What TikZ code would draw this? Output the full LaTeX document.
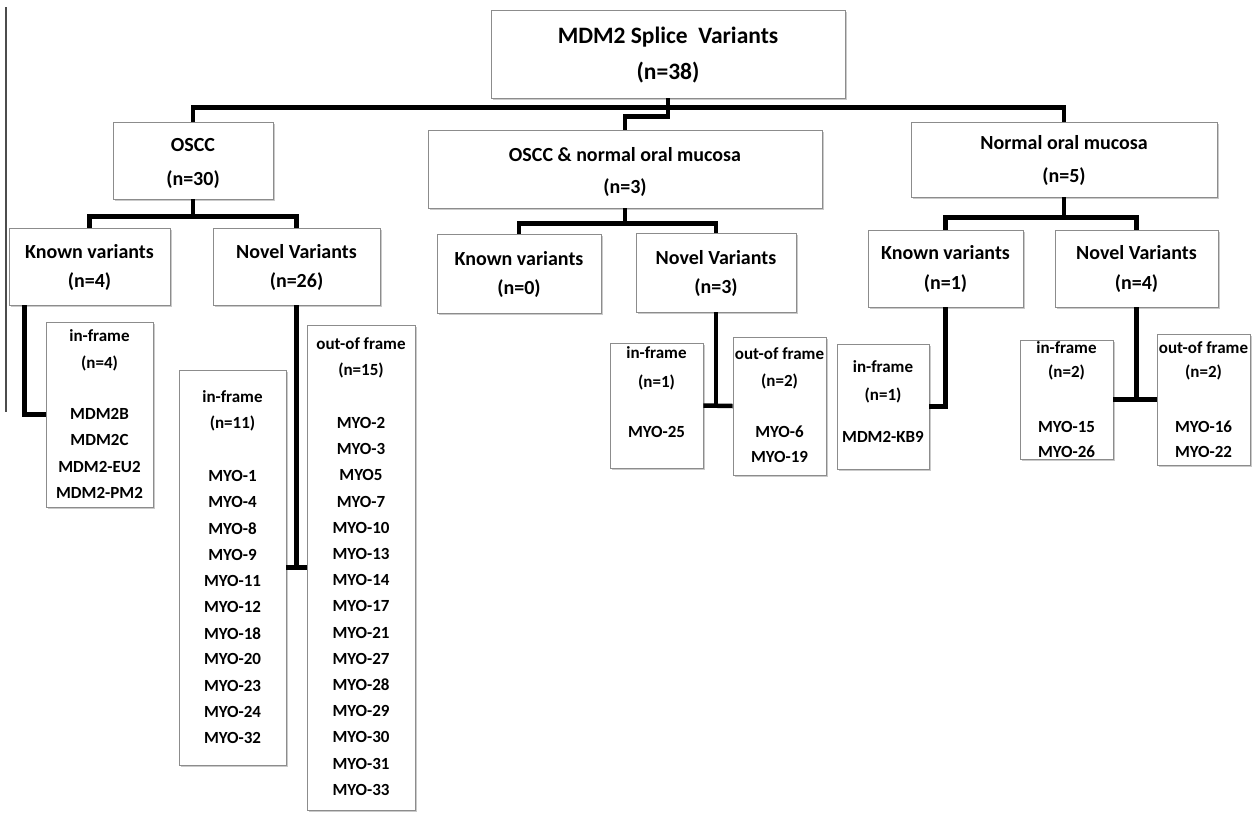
\documentclass[tikz,border=0pt]{standalone}
\usepackage{fontspec}
\setmainfont{Carlito}
\usetikzlibrary{shadows}
\tikzset{
  box/.style={draw=black!45, line width=0.9pt, fill=white, inner sep=0pt,
    drop shadow={shadow xshift=2pt, shadow yshift=-2pt, opacity=0.35, fill=black!60}},
  conn/.style={line width=4.5pt, black, line join=miter},
  big/.style={inner sep=0pt, font=\bfseries\fontsize{23.5}{26}\selectfont},
  mid/.style={inner sep=0pt, font=\bfseries\fontsize{20}{22}\selectfont},
  sml/.style={inner sep=0pt, font=\bfseries\fontsize{17}{19}\selectfont},
}
\newcommand{\mkbox}[5]{% name, x1, y1, x2, y2
  \node[box, minimum width={(#4-#2)*1pt}, minimum height={(#5-#3)*1pt}] (#1) at ({(#2+#4)/2},{(#3+#5)/2}) {};}
\begin{document}
\begin{tikzpicture}[x=1pt, y=-1pt]
\useasboundingbox (0,0) rectangle (1253,812);
% thin margin line
\coordinate (edgeTop) at (6,7);
\coordinate (edgeBot) at (6,412);
\draw[line width=1.3pt, black!70] (edgeTop) -- (edgeBot);

% boxes
\mkbox{root}{491}{10}{845}{98}
\mkbox{oscc}{113}{122}{273}{199}
\mkbox{both}{428}{130}{822}{208}
\mkbox{nom}{911}{122}{1217}{197}
\mkbox{kvA}{9}{228}{170}{305}
\mkbox{nvA}{213}{228}{380}{305}
\mkbox{kvB}{437}{234}{601}{313}
\mkbox{nvB}{636}{233}{796}{312}
\mkbox{kvC}{868}{230}{1023}{307}
\mkbox{nvC}{1055}{230}{1218}{307}
\mkbox{ifA}{46}{322}{153}{507}
\mkbox{ifA2}{179}{370}{286}{765}
\mkbox{ofA2}{307}{325}{415}{810}
\mkbox{ifB}{610}{343}{703}{468}
\mkbox{ofB}{733}{337}{826}{475}
\mkbox{ifC}{837}{344}{929}{469}
\mkbox{ifC2}{1020}{340}{1113}{459}
\mkbox{ofC2}{1157}{334}{1250}{465}

% connectors
\draw[conn] (oscc.north) -- ++(0,-14) -| (nom.north);
\draw[conn] (root.south) -- ++(0,18) -| (both.north);
\draw[conn] (oscc.south) -- ++(0,17) coordinate (jA);
\draw[conn] (kvA.north) |- (jA) -| (nvA.north);
\draw[conn] (both.south) -- ++(0,15) coordinate (jB);
\draw[conn] (kvB.north) |- (jB) -| (nvB.north);
\draw[conn] (nom.south) -- ++(0,20) coordinate (jC);
\draw[conn] (kvC.north) |- (jC) -| (nvC.north);
\draw[conn] ([xshift=16pt]kvA.south west) |- (ifA.west);
\draw[conn] (nvA.south) -- (nvA.south |- ifA2.east);
\draw[conn] (ifA2.east) -- (ofA2.west);
\draw[conn] (nvB.south) -- (nvB.south |- ifB.east);
\draw[conn] (ifB.east) -- (ofB.west);
\draw[conn] (kvC.south) |- (ifC.east);
\draw[conn] (nvC.south) -- (nvC.south |- ifC2.east);
\draw[conn] (ifC2.east) -- (ofC2.west);

% texts
\node[big] (rootT1) at (668,37) {MDM2 Splice\ \ Variants};
\node[big] (rootT2) at (668,73) {(n=38)};
\node[mid] (osccT1) at (193,145) {OSCC};
\node[mid] (osccT2) at (193,180) {(n=30)};
\node[mid] (bothT1) at (625,155) {OSCC \& normal oral mucosa};
\node[mid] (bothT2) at (625,188) {(n=3)};
\node[mid] (nomT1) at (1064,143) {Normal oral mucosa};
\node[mid] (nomT2) at (1064,177) {(n=5)};
\node[mid] (kvAT1) at (89.5,252) {Known variants};
\node[mid] (kvAT2) at (89.5,282) {(n=4)};
\node[mid] (nvAT1) at (296.5,252) {Novel Variants};
\node[mid] (nvAT2) at (296.5,282) {(n=26)};
\node[mid] (kvBT1) at (519,259) {Known variants};
\node[mid] (kvBT2) at (519,289) {(n=0)};
\node[mid] (nvBT1) at (716,258) {Novel Variants};
\node[mid] (nvBT2) at (716,288) {(n=3)};
\node[mid] (kvCT1) at (945.5,253) {Known variants};
\node[mid] (kvCT2) at (945.5,284) {(n=1)};
\node[mid] (nvCT1) at (1136.5,253) {Novel Variants};
\node[mid] (nvCT2) at (1136.5,284) {(n=4)};

% list boxes
\node[sml] (ifAh1) at (99.5,336) {in-frame};
\node[sml] (ifAh2) at (99.5,363) {(n=4)};
\foreach \t [count=\i] in {MDM2B,MDM2C,MDM2-EU2,MDM2-PM2}
  \node[sml] (ifAl\i) at (99.5,{414+(\i-1)*26.3}) {\t};

\node[sml] (ifA2h1) at (232.5,397) {in-frame};
\node[sml] (ifA2h2) at (232.5,423) {(n=11)};
\foreach \t [count=\i] in {MYO-1,MYO-4,MYO-8,MYO-9,MYO-11,MYO-12,MYO-18,MYO-20,MYO-23,MYO-24,MYO-32}
  \node[sml] (ifA2l\i) at (232.5,{476+(\i-1)*26.2}) {\t};

\node[sml] (ofA2h1) at (361,344) {out-of frame};
\node[sml] (ofA2h2) at (361,370) {(n=15)};
\foreach \t [count=\i] in {MYO-2,MYO-3,MYO5,MYO-7,MYO-10,MYO-13,MYO-14,MYO-17,MYO-21,MYO-27,MYO-28,MYO-29,MYO-30,MYO-31,MYO-33}
  \node[sml] (ofA2l\i) at (361,{423+(\i-1)*26.2}) {\t};

\node[sml] (ifBh1) at (656.5,353) {in-frame};
\node[sml] (ifBh2) at (656.5,382) {(n=1)};
\node[sml] (ifBl1) at (656.5,432) {MYO-25};

\node[sml] (ofBh1) at (779.5,354) {out-of frame};
\node[sml] (ofBh2) at (779.5,381) {(n=2)};
\node[sml] (ofBl1) at (779.5,432) {MYO-6};
\node[sml] (ofBl2) at (779.5,457) {MYO-19};

\node[sml] (ifCh1) at (883,367) {in-frame};
\node[sml] (ifCh2) at (883,395) {(n=1)};
\node[sml] (ifCl1) at (883,437) {MDM2-KB9};

\node[sml] (ifC2h1) at (1066.5,348) {in-frame};
\node[sml] (ifC2h2) at (1066.5,372) {(n=2)};
\node[sml] (ifC2l1) at (1066.5,427) {MYO-15};
\node[sml] (ifC2l2) at (1066.5,452) {MYO-26};

\node[sml] (ofC2h1) at (1203.5,348) {out-of frame};
\node[sml] (ofC2h2) at (1203.5,372) {(n=2)};
\node[sml] (ofC2l1) at (1203.5,427) {MYO-16};
\node[sml] (ofC2l2) at (1203.5,452) {MYO-22};
\end{tikzpicture}
\end{document}
